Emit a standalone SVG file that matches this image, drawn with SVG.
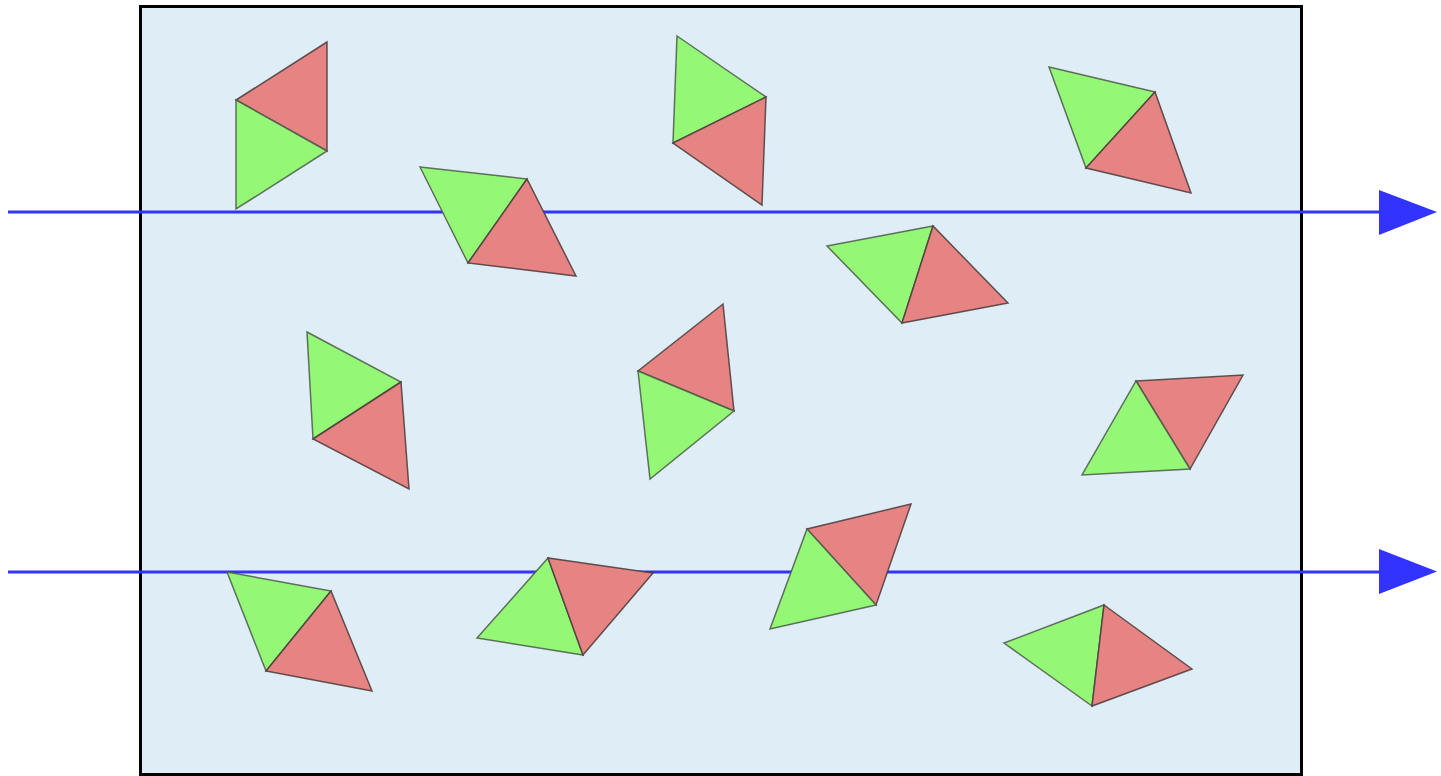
<svg xmlns="http://www.w3.org/2000/svg" width="1441" height="776" viewBox="0 0 1441 776">
<style>
.box{fill:#dfedf7;stroke:#000;stroke-width:3}
.g{fill:#95f776;stroke:#4a5a4a;stroke-opacity:0.85;stroke-width:1.5;stroke-linejoin:miter}
.r{fill:#e68383;stroke:#4a3a3a;stroke-opacity:0.85;stroke-width:1.5;stroke-linejoin:miter}
.ln{stroke:#3333ff;stroke-width:3;fill:none}
.hd{fill:#3333ff}
</style>
<rect id="box" class="box" x="140.5" y="6.5" width="1161" height="768"/>
<g id="connectors">
<line class="ln" x1="8" y1="212" x2="1382" y2="212"/>
<polygon class="hd" points="1379,190 1437,212 1379,235"/>
<line class="ln" x1="8" y1="572" x2="1382" y2="572"/>
<polygon class="hd" points="1379,549 1437,571.5 1379,594"/>
</g>
<g id="rhombus1"><polygon class="r" points="327,42 236,100 327,151"/><polygon class="g" points="236,100 327,151 236,209"/></g>
<g id="rhombus2"><polygon class="g" points="420,167 527,179 468,263"/><polygon class="r" points="527,179 468,263 576,276"/></g>
<g id="rhombus3"><polygon class="g" points="677,36 766,97 673,143"/><polygon class="r" points="766,97 673,143 762,205"/></g>
<g id="rhombus4"><polygon class="g" points="827,246 933,226 902,323"/><polygon class="r" points="933,226 902,323 1008,303"/></g>
<g id="rhombus5"><polygon class="g" points="1049,67 1155,92 1086,168"/><polygon class="r" points="1155,92 1086,168 1191,193"/></g>
<g id="rhombus6"><polygon class="g" points="307,332 401,382 313,439"/><polygon class="r" points="401,382 313,439 409,489"/></g>
<g id="rhombus7"><polygon class="r" points="723,304 638,371 734,411"/><polygon class="g" points="638,371 734,411 650,479"/></g>
<g id="rhombus8"><polygon class="r" points="1136,381 1243,375 1190,469"/><polygon class="g" points="1136,381 1190,469 1082,475"/></g>
<g id="rhombus9"><polygon class="g" points="227,572 331,591 266,671"/><polygon class="r" points="331,591 266,671 372,691"/></g>
<g id="rhombus10"><polygon class="r" points="911,504 807,529 876,605"/><polygon class="g" points="807,529 876,605 770,629"/></g>
<g id="rhombus11"><polygon class="g" points="1004,643 1104,605 1092,706"/><polygon class="r" points="1104,605 1092,706 1192,669"/></g>
<g id="rhombus12"><polygon class="g" points="477,638 548,558 583,655"/><polygon class="r" points="548,558 583,655 653,573"/></g>
</svg>
